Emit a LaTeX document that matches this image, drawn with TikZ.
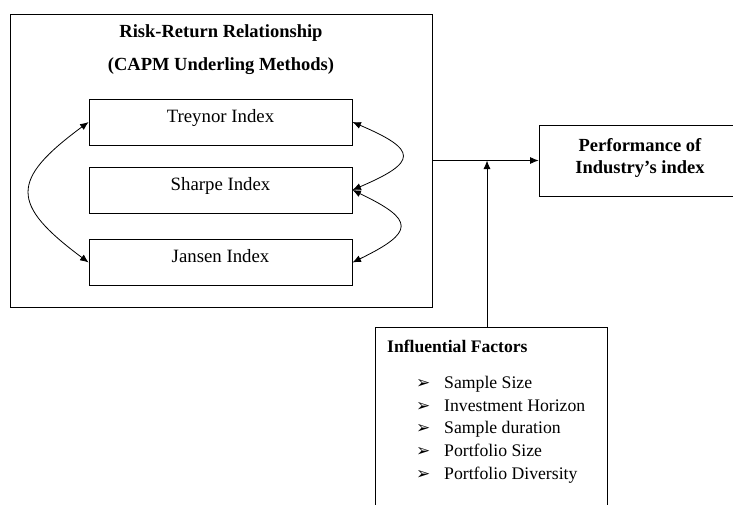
\documentclass[tikz,border=0pt]{standalone}
\usepackage{fontspec}
\setmainfont{Liberation Serif}
\newfontfamily\dvfont{DejaVu Sans}
\usetikzlibrary{arrows.meta}
\tikzset{
  box/.style={draw, line width=0.8pt, inner sep=0pt},
  big/.style={font=\fontsize{18.8}{22}\selectfont, inner sep=0pt, anchor=base},
  bigb/.style={font=\bfseries\fontsize{18.5}{22}\selectfont, inner sep=0pt, anchor=base},
  small/.style={font=\fontsize{17.7}{21}\selectfont, inner sep=0pt, anchor=base west},
  smallb/.style={font=\bfseries\fontsize{17.6}{21}\selectfont, inner sep=0pt, anchor=base west},
  bul/.style={font=\dvfont\bfseries\fontsize{17}{19}\selectfont, inner sep=0pt, anchor=base west},
  conn/.style={line width=0.8pt, -{Latex[length=8.5pt,width=7pt]}},
  dconn/.style={line width=0.8pt, {Latex[length=8.5pt,width=7pt]}-{Latex[length=8.5pt,width=7pt]}},
}
\begin{document}
\begin{tikzpicture}[x=1pt,y=-1pt]
\useasboundingbox (0,0) rectangle (733,504);
% outer box
\node[box, minimum width=422pt, minimum height=293pt] (outer) at (221,160.5) {};
\node[bigb] (t1) at (221,37) {Risk-Return Relationship};
\node[bigb] (t2) at (221,70) {(CAPM Underling Methods)};
% index boxes
\node[box, minimum width=263pt, minimum height=46pt] (tre) at (220.5,122) {};
\node[box, minimum width=263pt, minimum height=46pt] (sha) at (220.5,190) {};
\node[box, minimum width=263pt, minimum height=46pt] (jan) at (220.5,262.5) {};
\node[big] (treT) at (220.5,122) {Treynor Index};
\node[big] (shaT) at (220.5,190) {Sharpe Index};
\node[big] (janT) at (220.5,262.5) {Jansen Index};
% curves
\draw[dconn] (tre.west) .. controls (10,180) and (10,204) .. (jan.west);
\draw[dconn] (tre.east) .. controls (418,150) and (418,162) .. (sha.east);
\draw[dconn] (sha.east) .. controls (415,220) and (415,232) .. (jan.east);
% performance box
\node[box, minimum width=201pt, minimum height=71pt] (perf) at (639.5,160.5) {};
\node[bigb] (p1) at (640,151) {Performance of};
\node[bigb] (p2) at (640,173) {Industry’s index};
\draw[conn] (outer.east) -- (perf.west);
% influential factors
\node[box, minimum width=232pt, minimum height=190pt] (infl) at (491,422) {};
\coordinate (j) at (487,160.5);
\draw[conn] (infl.north -| j) -- (j);
\node[smallb] (ih) at (387,352) {Influential Factors};
\node[bul] (b1) at (416,388) {➢};
\node[bul] (b2) at (416,411) {➢};
\node[bul] (b3) at (416,433) {➢};
\node[bul] (b4) at (416,456) {➢};
\node[bul] (b5) at (416,479) {➢};
\node[small] (i1) at (444,388) {Sample Size};
\node[small] (i2) at (444,411) {Investment Horizon};
\node[small] (i3) at (444,433) {Sample duration};
\node[small] (i4) at (444,456) {Portfolio Size};
\node[small] (i5) at (444,479) {Portfolio Diversity};
\end{tikzpicture}
\end{document}
